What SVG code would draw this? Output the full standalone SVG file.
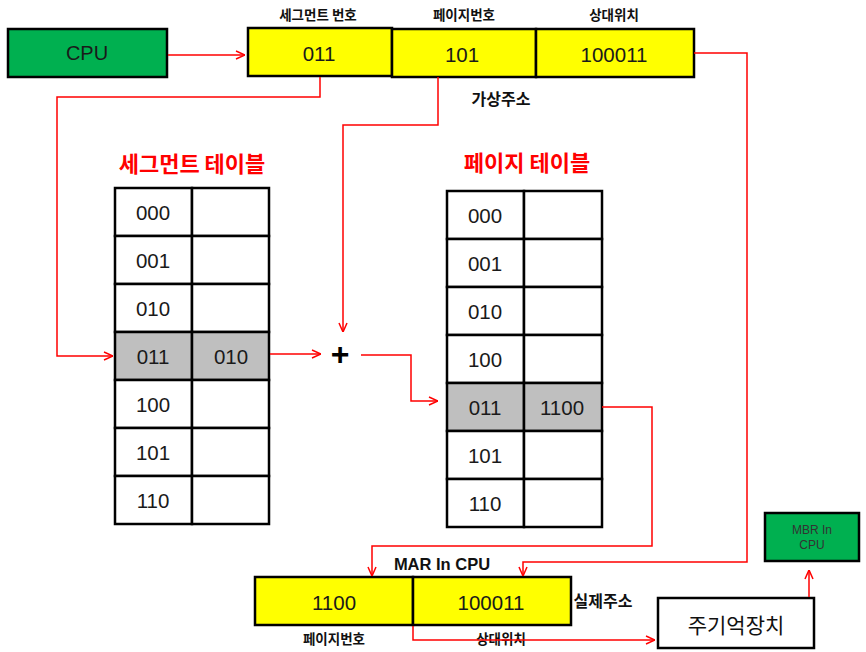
<svg xmlns="http://www.w3.org/2000/svg" width="866" height="652" viewBox="0 0 866 652">
<style>
.box{stroke:#000;stroke-width:2.5}
.cell{fill:#fff;stroke:#000;stroke-width:2.5}
.hl{fill:#BFBFBF;stroke:#000;stroke-width:2.5}
.yel{fill:#FFFF00;stroke:#000;stroke-width:2.5}
.grn{fill:#00B050;stroke:#000;stroke-width:2.5}
.num{font-family:"Liberation Sans","Noto Sans CJK KR",sans-serif;font-size:20.5px;fill:#1a1a1a;text-anchor:middle;dominant-baseline:central}
.lbl{font-family:"Noto Sans CJK KR","Liberation Sans",sans-serif;font-size:13.5px;font-weight:bold;fill:#111;text-anchor:middle;dominant-baseline:central}
.title{font-family:"Noto Sans CJK KR",sans-serif;font-size:22px;font-weight:bold;fill:#FF0000;text-anchor:middle}
.conn{fill:none;stroke:#FF0000;stroke-width:1.5}
</style>
<defs>
<marker id="ah" viewBox="0 0 10 10" refX="10" refY="5" markerWidth="10" markerHeight="10" orient="auto" markerUnits="userSpaceOnUse">
<path d="M1,1 L10,5 L1,9" fill="none" stroke="#FF0000" stroke-width="1.5"/>
</marker>
</defs>
<rect width="866" height="652" fill="#fff"/>

<g id="cpu">
<rect class="grn" x="8" y="29" width="159" height="48"/>
<text class="num" x="87" y="53" style="font-size:20px">CPU</text>
</g>

<g id="virtual-address">
<text class="lbl" x="318" y="14">세그먼트 번호</text>
<text class="lbl" x="464" y="14">페이지번호</text>
<text class="lbl" x="614" y="14">상대위치</text>
<rect class="yel" x="248" y="28" width="144" height="48"/>
<rect class="yel" x="392" y="29" width="144" height="48"/>
<rect class="yel" x="536" y="29" width="158" height="48"/>
<text class="num" x="319" y="53">011</text>
<text class="num" x="462" y="54">101</text>
<text class="num" x="614" y="54">100011</text>
<text class="lbl" x="501" y="98" style="font-size:16px">가상주소</text>
</g>

<g id="segment-table">
<text class="title" x="192" y="172">세그먼트 테이블</text>
<rect class="cell" x="115" y="188" width="77" height="48"/><rect class="cell" x="192" y="188" width="77" height="48"/>
<rect class="cell" x="115" y="236" width="77" height="48"/><rect class="cell" x="192" y="236" width="77" height="48"/>
<rect class="cell" x="115" y="284" width="77" height="48"/><rect class="cell" x="192" y="284" width="77" height="48"/>
<rect class="hl" x="115" y="332" width="77" height="48"/><rect class="hl" x="192" y="332" width="77" height="48"/>
<rect class="cell" x="115" y="380" width="77" height="48"/><rect class="cell" x="192" y="380" width="77" height="48"/>
<rect class="cell" x="115" y="428" width="77" height="48"/><rect class="cell" x="192" y="428" width="77" height="48"/>
<rect class="cell" x="115" y="476" width="77" height="48"/><rect class="cell" x="192" y="476" width="77" height="48"/>
<text class="num" x="153" y="212">000</text>
<text class="num" x="153" y="260">001</text>
<text class="num" x="153" y="308">010</text>
<text class="num" x="153" y="356">011</text>
<text class="num" x="231" y="356">010</text>
<text class="num" x="153" y="404">100</text>
<text class="num" x="153" y="452">101</text>
<text class="num" x="153" y="500">110</text>
</g>

<g id="plus">
<text x="340" y="354" style="font-family:'Liberation Sans',sans-serif;font-size:32px;font-weight:bold;fill:#000;text-anchor:middle;dominant-baseline:central">+</text>
</g>

<g id="page-table">
<text class="title" x="527" y="171">페이지 테이블</text>
<rect class="cell" x="447" y="191" width="77" height="48"/><rect class="cell" x="524" y="191" width="78" height="48"/>
<rect class="cell" x="447" y="239" width="77" height="48"/><rect class="cell" x="524" y="239" width="78" height="48"/>
<rect class="cell" x="447" y="287" width="77" height="48"/><rect class="cell" x="524" y="287" width="78" height="48"/>
<rect class="cell" x="447" y="335" width="77" height="48"/><rect class="cell" x="524" y="335" width="78" height="48"/>
<rect class="hl" x="447" y="383" width="77" height="48"/><rect class="hl" x="524" y="383" width="78" height="48"/>
<rect class="cell" x="447" y="431" width="77" height="48"/><rect class="cell" x="524" y="431" width="78" height="48"/>
<rect class="cell" x="447" y="479" width="77" height="48"/><rect class="cell" x="524" y="479" width="78" height="48"/>
<text class="num" x="485" y="215">000</text>
<text class="num" x="485" y="263">001</text>
<text class="num" x="485" y="311">010</text>
<text class="num" x="485" y="359">100</text>
<text class="num" x="485" y="407">011</text>
<text class="num" x="562" y="407">1100</text>
<text class="num" x="485" y="455">101</text>
<text class="num" x="485" y="503">110</text>
</g>

<g id="physical-address">
<text x="442" y="564" style="font-family:'Liberation Sans','Noto Sans CJK KR',sans-serif;font-size:16.5px;font-weight:bold;fill:#111;text-anchor:middle;dominant-baseline:central">MAR In CPU</text>
<rect class="yel" x="255" y="577" width="158" height="48"/>
<rect class="yel" x="413" y="577" width="158" height="48"/>
<text class="num" x="334" y="602">1100</text>
<text class="num" x="491" y="602">100011</text>
<text class="lbl" x="603" y="600" style="font-size:16px">실제주소</text>
<text class="lbl" x="334" y="638">페이지번호</text>
<text class="lbl" x="501" y="638">상대위치</text>
</g>

<g id="main-memory">
<rect class="box" x="658" y="598" width="156" height="50" fill="#fff"/>
<text x="736" y="624" style="font-family:'Noto Sans CJK KR',sans-serif;font-size:21px;fill:#111;text-anchor:middle;dominant-baseline:central">주기억장치</text>
</g>

<g id="mbr">
<rect class="grn" x="765" y="513" width="94" height="48"/>
<text x="812" y="530" style="font-family:'Liberation Sans',sans-serif;font-size:12px;fill:#333;text-anchor:middle;dominant-baseline:central">MBR In</text>
<text x="812" y="545" style="font-family:'Liberation Sans',sans-serif;font-size:12px;fill:#333;text-anchor:middle;dominant-baseline:central">CPU</text>
</g>

<g id="connectors">
<path class="conn" d="M168,55 H245" marker-end="url(#ah)"/>
<path class="conn" d="M320,77 V97 H57 V356 H113" marker-end="url(#ah)"/>
<path class="conn" d="M438,77 V125 H343 V332" marker-end="url(#ah)"/>
<path class="conn" d="M270,354 H321" marker-end="url(#ah)"/>
<path class="conn" d="M361,355 H411 V401 H438" marker-end="url(#ah)"/>
<path class="conn" d="M694,53 H747 V562 H523 V576" marker-end="url(#ah)"/>
<path class="conn" d="M602,407 H652 V546 H372 V576" marker-end="url(#ah)"/>
<path class="conn" d="M413,626 V640 H655" marker-end="url(#ah)"/>
<path class="conn" d="M809,597 V570" marker-end="url(#ah)"/>
</g>
</svg>
